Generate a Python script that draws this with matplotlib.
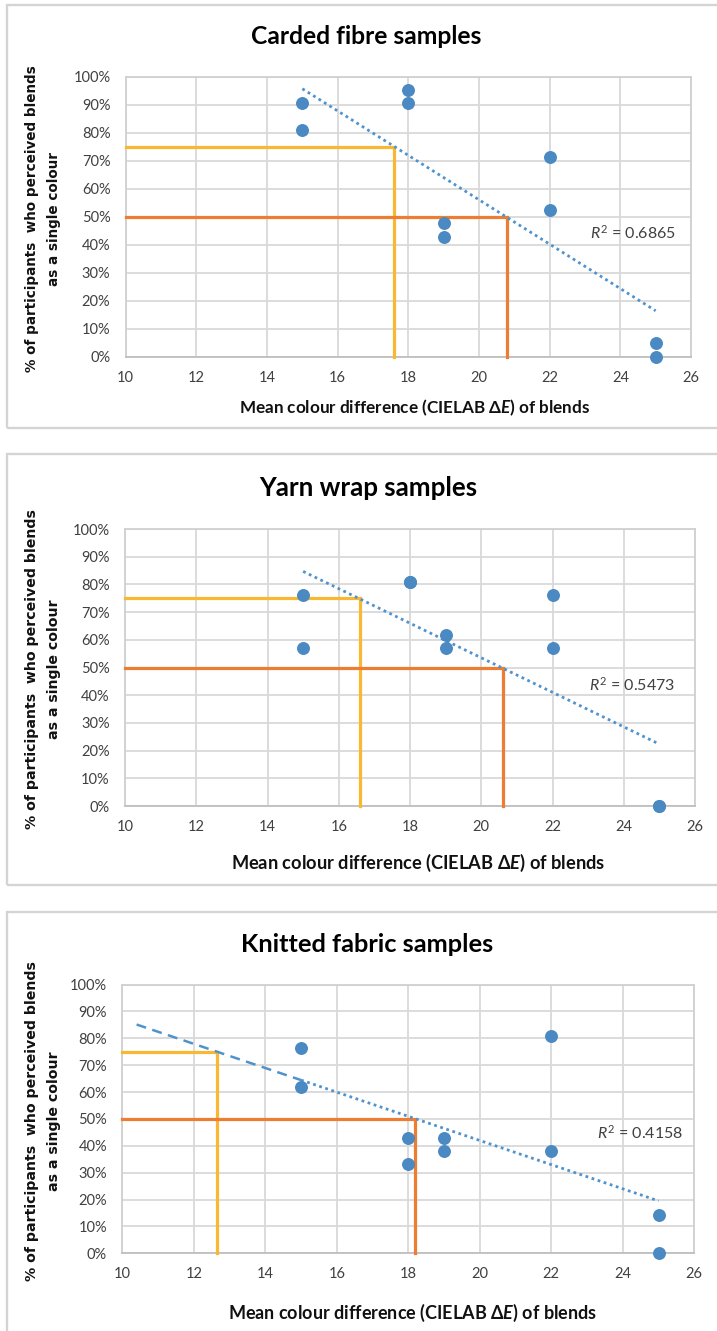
import numpy as np
import matplotlib
matplotlib.use("Agg")
import matplotlib.pyplot as plt
from matplotlib.patches import Rectangle

# ---------------- data ----------------
titles = ["Carded fibre samples", "Yarn wrap samples", "Knitted fabric samples"]

carded_x = [15, 15, 18, 18, 19, 19, 22, 22, 25, 25]
carded_y = [90.5, 81.0, 95.2, 90.5, 47.6, 42.9, 71.4, 52.4, 4.8, 0.0]

yarn_x = [15, 15, 18, 18, 19, 19, 22, 22, 25, 25]
yarn_y = [76.2, 57.1, 81.0, 81.0, 61.9, 57.1, 76.2, 57.1, 0.0, 0.0]

knit_x = [15, 15, 18, 18, 19, 19, 22, 22, 25, 25]
knit_y = [76.2, 61.9, 42.9, 33.3, 42.9, 38.1, 81.0, 38.1, 14.3, 0.0]

r2_labels = ["0.6865", "0.5473", "0.4158"]

threshold_levels = [75, 50]
carded_cross = [17.6, 20.8]
yarn_cross = [16.6, 20.6]
knit_cross = [12.65, 18.2]

trend_range = [15, 25]
knit_backward_start = 10.4

x_ticks = [10, 12, 14, 16, 18, 20, 22, 24, 26]
y_ticks = [0, 10, 20, 30, 40, 50, 60, 70, 80, 90, 100]
y_tick_labels = ["0%", "10%", "20%", "30%", "40%", "50%", "60%", "70%", "80%", "90%", "100%"]

xlabel_text = "Mean colour difference (CIELAB Δ$\\mathbf{E}$) of blends"
ylabel_line1 = "% of participants  who perceived blends"
ylabel_line2 = "as a single colour"

# ---------------- style / layout ----------------
plt.rcParams["mathtext.fontset"] = "custom"
plt.rcParams["mathtext.rm"] = "Lato"
plt.rcParams["mathtext.it"] = "Lato:italic"
plt.rcParams["mathtext.bf"] = "Lato:bold:italic"

W, H = 717, 1331
fig = plt.figure(figsize=(W / 100, H / 100), dpi=100)
fig.patch.set_facecolor("white")

def fx(p):
    return p / W

def fy(p):
    return 1 - p / H

renderer = fig.canvas.get_renderer()

def fit(t, target, use_height=False):
    for _ in range(3):
        bb = t.get_window_extent(renderer)
        cur = bb.height if use_height else bb.width
        t.set_fontsize(t.get_fontsize() * target / cur)

layouts = [
    dict(box=(125.7, 76.7, 691, 356.7), border=(5, 428), title_xy=(366, 37), title_w=230,
         xl_xy=(415, 408), xl_w=352, yl_h=307, r2_xy=(23.14, 44.2)),
    dict(box=(125, 529, 695, 806), border=(454, 885), title_xy=(368, 488), title_w=217,
         xl_xy=(418, 863), xl_w=375, yl_h=318, r2_xy=(23.02, 43.7)),
    dict(box=(122.3, 984.5, 694.3, 1253.3), border=(912, 1345), title_xy=(367, 945), title_w=252,
         xl_xy=(413, 1313), xl_w=368, yl_h=318, r2_xy=(23.28, 44.7)),
]

series = [(carded_x, carded_y, carded_cross),
          (yarn_x, yarn_y, yarn_cross),
          (knit_x, knit_y, knit_cross)]

line_colors = ["#F9B832", "#EC7D33"]
dot_color = "#4A89C1"
trend_color = "#4F93CE"
grid_color = "#D9D9D9"
tick_color = "#404040"

for i, (lay, (xs, ys, cross)) in enumerate(zip(layouts, series)):
    l, t, r, b = lay["box"]
    # panel border
    bt, bb_ = lay["border"]
    fig.add_artist(Rectangle((fx(7), fy(bb_)), (W + 20 - 7) / W, (bb_ - bt) / H,
                             transform=fig.transFigure, fill=False,
                             ec="#D4D4D4", lw=1.7, clip_on=False))

    ax = fig.add_axes([fx(l), fy(b), (r - l) / W, (b - t) / H])
    ax.set_xlim(10, 26)
    ax.set_ylim(0, 100)
    ax.set_xticks(x_ticks)
    ax.set_yticks(y_ticks)
    ax.set_yticklabels(y_tick_labels)
    ax.grid(True, color=grid_color, lw=1.3)
    ax.set_axisbelow(True)
    for s in ax.spines.values():
        s.set_color("#D0D0D0")
        s.set_linewidth(1.3)
    ax.spines["bottom"].set_color("#BFBFBF")
    ax.tick_params(length=0, labelsize=10.5, labelcolor=tick_color)
    ax.tick_params(axis="y", pad=11)
    ax.tick_params(axis="x", pad=10)
    for lab in ax.get_xticklabels() + ax.get_yticklabels():
        lab.set_family("Lato")

    # threshold guide lines
    for lev, xc, col in zip(threshold_levels, cross, line_colors):
        ax.plot([10, xc, xc], [lev, lev, 0], color=col, lw=2.3,
                solid_joinstyle="miter", clip_on=False, zorder=3)

    # linear trendline
    coef = np.polyfit(xs, ys, 1)
    tx = np.array(trend_range, dtype=float)
    ax.plot(tx, np.polyval(coef, tx), ls=(0, (1, 1.3)), color=trend_color,
            lw=2.0, zorder=4)
    if i == 2:
        bx = np.array([knit_backward_start, trend_range[0]], dtype=float)
        ax.plot(bx, np.polyval(coef, bx), ls=(0, (4, 2.6)), color=trend_color,
                lw=1.8, zorder=4)

    # data points
    ax.plot(xs, ys, "o", ms=8.3, color=dot_color, mec=dot_color,
            clip_on=False, zorder=5)

    # R^2 label
    ax.text(lay["r2_xy"][0], lay["r2_xy"][1], "$R^2$ = " + r2_labels[i],
            fontsize=11.5, family="Lato", color=tick_color, ha="left", va="center")

    # title
    tt = fig.text(fx(lay["title_xy"][0]), fy(lay["title_xy"][1]), titles[i],
                  ha="center", va="center", fontsize=16, fontweight="bold",
                  family="Lato", color="black")
    fit(tt, lay["title_w"])

    # x label
    xl = fig.text(fx(lay["xl_xy"][0]), fy(lay["xl_xy"][1]), xlabel_text,
                  ha="center", va="center", fontsize=12, fontweight="bold",
                  family=["Lato", "DejaVu Sans"], color="#111111")
    fit(xl, lay["xl_w"])

    # y label (two lines)
    cy = (t + b) / 2 + 2
    y1 = fig.text(fx(32), fy(cy), ylabel_line1, rotation=90, ha="center", va="center",
                  fontsize=9, fontweight="bold", family="DejaVu Sans", color="#111111")
    fit(y1, lay["yl_h"], use_height=True)
    fig.text(fx(54), fy(cy), ylabel_line2, rotation=90, ha="center", va="center",
             fontsize=y1.get_fontsize(), fontweight="bold", family="DejaVu Sans",
             color="#111111")

fig.savefig("out.png", dpi=100, facecolor="white")
